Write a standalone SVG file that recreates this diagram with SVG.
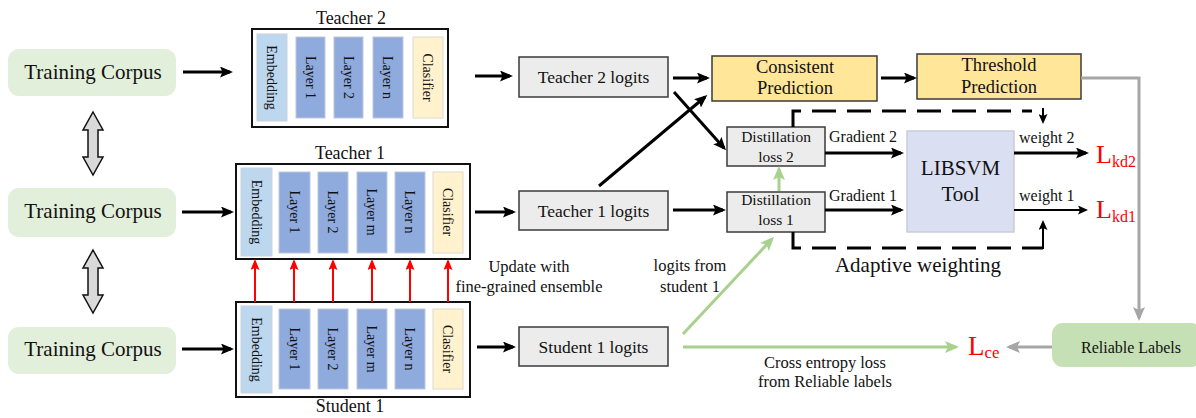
<svg xmlns="http://www.w3.org/2000/svg" width="1196" height="418" viewBox="0 0 1196 418" font-family="Liberation Serif">
  <style>
    text { fill: #111; }
    .corpus { fill: #e2efda; stroke: none; }
    .corpus-t { font-size: 21px; text-anchor: middle; }
    .model { fill: #fff; stroke: #111; stroke-width: 2; }
    .title { font-size: 18px; text-anchor: middle; }
    .emb { fill: #bdd7ee; stroke: #c9d3dc; stroke-width: 1; }
    .lay { fill: #8faadc; stroke: #c0c8d8; stroke-width: 1; }
    .cls { fill: #fff2cc; stroke: #dedad0; stroke-width: 1; }
    .vt { font-size: 14px; text-anchor: middle; }
    .logit { fill: #ececec; stroke: #3a3a3a; stroke-width: 1.5; }
    .logit-t { font-size: 17.5px; text-anchor: middle; }
    .pred { fill: #ffe699; stroke: #3a3a3a; stroke-width: 1.5; }
    .pred-t { font-size: 18.5px; text-anchor: middle; }
    .loss-t { font-size: 15.5px; text-anchor: middle; }
    .lbl { font-size: 16px; }
    .lbl-m { font-size: 16.5px; text-anchor: middle; }
    .svm { fill: #dae0f2; stroke: #c8cdd8; stroke-width: 1.5; }
    .big { font-size: 21px; text-anchor: middle; }
    .red { fill: #ff0000; }
    .reliable { fill: #c5e0b4; stroke: none; }
    .blk { fill: none; stroke: #000; stroke-width: 3; marker-end: url(#ah); }
    .blk2 { fill: none; stroke: #000; stroke-width: 2; marker-end: url(#ah-s); }
    .dash { fill: none; stroke: #000; stroke-width: 3; stroke-dasharray: 24 11; }
    .rd { fill: none; stroke: #ff0000; stroke-width: 2; marker-end: url(#ah-r); }
    .gr { fill: none; stroke: #a9d18e; stroke-width: 3; marker-end: url(#ah-g); }
    .gy { fill: none; stroke: #a6a6a6; stroke-width: 3; marker-end: url(#ah-y); }
    .dbl { fill: #d9d9d9; stroke: #111; stroke-width: 1.5; stroke-linejoin: miter; }
  </style>
  <defs>
    <marker id="ah" markerUnits="userSpaceOnUse" markerWidth="13" markerHeight="11" viewBox="0 0 13 11" refX="10" refY="5.5" orient="auto">
      <path d="M0,0 L13,5.5 L0,11 L2.5,5.5 z" fill="#000"/>
    </marker>
    <marker id="ah-s" markerUnits="userSpaceOnUse" markerWidth="10" markerHeight="9" viewBox="0 0 10 9" refX="8" refY="4.5" orient="auto">
      <path d="M0,0 L10,4.5 L0,9 L2,4.5 z" fill="#000"/>
    </marker>
    <marker id="ah-r" markerUnits="userSpaceOnUse" markerWidth="11" markerHeight="9" viewBox="0 0 11 9" refX="9" refY="4.5" orient="auto">
      <path d="M0,0 L11,4.5 L0,9 L2,4.5 z" fill="#ff0000"/>
    </marker>
    <marker id="ah-g" markerUnits="userSpaceOnUse" markerWidth="14" markerHeight="12" viewBox="0 0 14 12" refX="11" refY="6" orient="auto">
      <path d="M0,0 L14,6 L0,12 L3,6 z" fill="#a9d18e"/>
    </marker>
    <marker id="ah-y" markerUnits="userSpaceOnUse" markerWidth="14" markerHeight="12" viewBox="0 0 14 12" refX="11" refY="6" orient="auto">
      <path d="M0,0 L14,6 L0,12 L3,6 z" fill="#a6a6a6"/>
    </marker>
  </defs>

  <!-- training corpora -->
  <g id="corpus-1">
    <rect class="corpus" x="8" y="49" width="168" height="47" rx="11"/>
    <text class="corpus-t" x="93" y="79">Training Corpus</text>
  </g>
  <g id="corpus-2">
    <rect class="corpus" x="8" y="188" width="168" height="49" rx="11"/>
    <text class="corpus-t" x="93" y="218">Training Corpus</text>
  </g>
  <g id="corpus-3">
    <rect class="corpus" x="8" y="327" width="168" height="47" rx="11"/>
    <text class="corpus-t" x="93" y="356">Training Corpus</text>
  </g>

  <!-- two-way block arrows between corpora -->
  <g id="swap-1">
    <polygon class="dbl" points="93,112 103,130 98,130 98,157 103,157 93,175 83,157 88,157 88,130 83,130"/>
  </g>
  <g id="swap-2">
    <polygon class="dbl" points="93,250 103,268 98,268 98,295 103,295 93,313 83,295 88,295 88,268 83,268"/>
  </g>

  <!-- Teacher 2 -->
  <g id="teacher-2">
    <text class="title" x="351" y="24">Teacher 2</text>
    <rect class="model" x="252" y="29" width="196" height="98"/>
    <rect class="emb" x="257" y="34" width="30" height="87"/>
    <rect class="lay" x="296" y="37" width="29" height="81"/>
    <rect class="lay" x="334" y="37" width="29" height="81"/>
    <rect class="lay" x="373" y="37" width="30" height="81"/>
    <rect class="cls" x="413" y="37" width="30" height="81"/>
    <text class="vt" transform="translate(272,77.5) rotate(90)" y="5">Embedding</text>
    <text class="vt" transform="translate(310.5,77.5) rotate(90)" y="5">Layer 1</text>
    <text class="vt" transform="translate(348.5,77.5) rotate(90)" y="5">Layer 2</text>
    <text class="vt" transform="translate(388,77.5) rotate(90)" y="5">Layer n</text>
    <text class="vt" transform="translate(428,77.5) rotate(90)" y="5">Clasifier</text>
  </g>

  <!-- Teacher 1 -->
  <g id="teacher-1">
    <text class="title" x="350" y="159">Teacher 1</text>
    <rect class="model" x="236" y="164" width="234" height="95"/>
    <rect class="emb" x="241" y="168" width="31" height="88"/>
    <rect class="lay" x="279" y="172" width="31" height="81"/>
    <rect class="lay" x="318" y="172" width="30" height="81"/>
    <rect class="lay" x="357" y="172" width="30" height="81"/>
    <rect class="lay" x="395" y="172" width="30" height="81"/>
    <rect class="cls" x="433" y="172" width="30" height="81"/>
    <text class="vt" transform="translate(256.5,212) rotate(90)" y="5">Embedding</text>
    <text class="vt" transform="translate(294.5,212) rotate(90)" y="5">Layer 1</text>
    <text class="vt" transform="translate(333,212) rotate(90)" y="5">Layer 2</text>
    <text class="vt" transform="translate(372,212) rotate(90)" y="5">Layer m</text>
    <text class="vt" transform="translate(410,212) rotate(90)" y="5">Layer n</text>
    <text class="vt" transform="translate(448,212) rotate(90)" y="5">Clasifier</text>
  </g>

  <!-- Student 1 -->
  <g id="student-1">
    <rect class="model" x="236" y="302" width="234" height="95"/>
    <rect class="emb" x="241" y="306" width="31" height="87"/>
    <rect class="lay" x="279" y="309" width="31" height="80"/>
    <rect class="lay" x="318" y="309" width="30" height="80"/>
    <rect class="lay" x="357" y="309" width="30" height="80"/>
    <rect class="lay" x="395" y="309" width="30" height="80"/>
    <rect class="cls" x="433" y="309" width="30" height="80"/>
    <text class="vt" transform="translate(256.5,349.5) rotate(90)" y="5">Embedding</text>
    <text class="vt" transform="translate(294.5,349) rotate(90)" y="5">Layer 1</text>
    <text class="vt" transform="translate(333,349) rotate(90)" y="5">Layer 2</text>
    <text class="vt" transform="translate(372,349) rotate(90)" y="5">Layer m</text>
    <text class="vt" transform="translate(410,349) rotate(90)" y="5">Layer n</text>
    <text class="vt" transform="translate(448,349) rotate(90)" y="5">Clasifier</text>
    <text class="title" x="350" y="412">Student 1</text>
  </g>

  <!-- logits -->
  <g id="teacher-2-logits">
    <rect class="logit" x="519" y="57" width="149" height="40"/>
    <text class="logit-t" x="593.5" y="83">Teacher 2 logits</text>
  </g>
  <g id="teacher-1-logits">
    <rect class="logit" x="519" y="191" width="149" height="39"/>
    <text class="logit-t" x="593.5" y="217">Teacher 1 logits</text>
  </g>
  <g id="student-1-logits">
    <rect class="logit" x="519" y="327" width="149" height="39"/>
    <text class="logit-t" x="593.5" y="353">Student 1 logits</text>
  </g>

  <!-- predictions -->
  <g id="consistent-prediction">
    <rect class="pred" x="712" y="56" width="165" height="45"/>
    <text class="pred-t" x="795" y="73">Consistent</text>
    <text class="pred-t" x="795" y="94">Prediction</text>
  </g>
  <g id="threshold-prediction">
    <rect class="pred" x="917" y="54" width="164" height="45"/>
    <text class="pred-t" x="999" y="71">Threshold</text>
    <text class="pred-t" x="999" y="93">Prediction</text>
  </g>

  <!-- distillation losses -->
  <g id="distillation-loss-2">
    <rect class="logit" x="727" y="127" width="98" height="39"/>
    <text class="loss-t" x="776" y="142">Distillation</text>
    <text class="loss-t" x="776" y="162">loss 2</text>
  </g>
  <g id="distillation-loss-1">
    <rect class="logit" x="727" y="192" width="98" height="40"/>
    <text class="loss-t" x="776" y="205">Distillation</text>
    <text class="loss-t" x="776" y="225">loss 1</text>
  </g>

  <!-- LIBSVM -->
  <g id="libsvm">
    <rect class="svm" x="907" y="131" width="107" height="101"/>
    <text class="big" x="960.5" y="175">LIBSVM</text>
    <text class="big" x="960.5" y="201">Tool</text>
  </g>

  <!-- loss terms -->
  <g id="l-kd2">
    <text class="red" x="1096" y="163" font-size="26">L<tspan font-size="16" dy="4">kd2</tspan></text>
  </g>
  <g id="l-kd1">
    <text class="red" x="1096" y="218" font-size="26">L<tspan font-size="16" dy="4">kd1</tspan></text>
  </g>
  <g id="l-ce">
    <text class="red" x="968" y="355" font-size="27">L<tspan font-size="17" dy="3">ce</tspan></text>
  </g>

  <!-- reliable labels -->
  <g id="reliable-labels">
    <rect class="reliable" x="1052" y="323" width="150" height="44" rx="11"/>
    <text x="1131" y="353" font-size="16" text-anchor="middle">Reliable Labels</text>
  </g>

  <!-- free labels -->
  <g id="labels">
    <text class="lbl-m" x="529" y="272">Update with</text>
    <text class="lbl-m" x="529" y="292">fine-grained ensemble</text>
    <text class="lbl-m" x="690" y="271">logits from</text>
    <text class="lbl-m" x="690" y="292">student 1</text>
    <text class="lbl-m" x="825" y="368">Cross entropy loss</text>
    <text class="lbl-m" x="825" y="387">from Reliable labels</text>
    <text class="lbl" x="829" y="142">Gradient 2</text>
    <text class="lbl" x="829" y="201">Gradient 1</text>
    <text class="lbl" x="1019" y="143">weight 2</text>
    <text class="lbl" x="1019" y="201">weight 1</text>
    <text class="big" x="918" y="272">Adaptive weighting</text>
  </g>

  <!-- connectors -->
  <g id="connectors">
    <!-- corpora into models -->
    <path class="blk" d="M183,72 H230"/>
    <path class="blk" d="M182,212 H231"/>
    <path class="blk" d="M182,349 H231"/>
    <!-- models to logits -->
    <path class="blk" d="M475,76 H510"/>
    <path class="blk" d="M475,212 H513"/>
    <path class="blk" d="M477,347 H513"/>
    <!-- student layers update teacher layers -->
    <path class="rd" d="M255,302 V261"/>
    <path class="rd" d="M294,302 V261"/>
    <path class="rd" d="M333,302 V261"/>
    <path class="rd" d="M372,302 V261"/>
    <path class="rd" d="M410,302 V261"/>
    <path class="rd" d="M448,302 V261"/>
    <!-- logits to predictions and losses -->
    <path class="blk" d="M673,78 H707"/>
    <path class="blk" d="M881,78 H914"/>
    <path class="blk" d="M674,92 L724,148"/>
    <path class="blk" d="M599,186 L705,97"/>
    <path class="blk" d="M673,210 H723"/>
    <path class="gr" d="M779,191 V169"/>
    <!-- gradients and weights -->
    <path class="blk" d="M825,153 H901"/>
    <path class="blk" d="M825,210 H901"/>
    <path class="blk" d="M1014,153 H1086"/>
    <path class="blk2" d="M1014,210 H1086"/>
    <!-- adaptive weighting feedback -->
    <path class="dash" d="M793,127 V111 H1032"/>
    <path class="blk2" d="M1043,108 V122"/>
    <path class="dash" d="M793,232 V248 H1043"/>
    <path class="blk2" d="M1043,249 V222"/>
    <!-- reliable label path -->
    <path class="gy" d="M1081,78 H1139 V318"/>
    <path class="gy" d="M1052,347 H1009"/>
    <!-- student logits -->
    <path class="gr" d="M683,347 H956"/>
    <path class="gr" d="M683,334 L772,239"/>
  </g>
</svg>
